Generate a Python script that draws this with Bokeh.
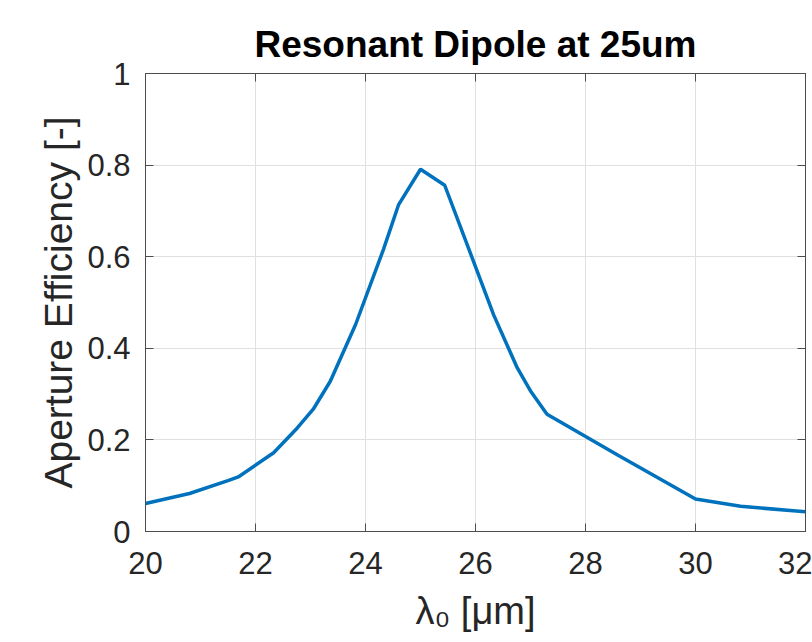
from bokeh.plotting import figure
from bokeh.models import LinearAxis, FixedTicker, Range1d
from bokeh.embed import file_html
from bokeh.resources import INLINE

wavelength_um = [20.0, 20.8, 21.5, 21.7, 22.33, 22.76, 23.05, 23.36, 23.82, 24.33, 24.6,
                 25.0, 25.44, 25.9, 26.33, 26.76, 27.0, 27.3, 28.6, 30.0, 30.82, 32.0]
aperture_eff = [0.061, 0.083, 0.111, 0.12, 0.172, 0.226, 0.267, 0.328, 0.452, 0.617, 0.713,
                0.791, 0.756, 0.61, 0.473, 0.357, 0.307, 0.256, 0.166, 0.071, 0.055, 0.043]
x_ticks = [20, 22, 24, 26, 28, 30, 32]
y_ticks = [0, 0.2, 0.4, 0.6, 0.8, 1]
y_tick_labels = {0: "0", 0.2: "0.2", 0.4: "0.4", 0.6: "0.6", 0.8: "0.8", 1: "1"}

AX = "#4d4d4d"
TXT = "#262626"
FONT = "Liberation Sans"

p = figure(width=812, height=642, output_backend="svg", toolbar_location=None,
           x_range=Range1d(20, 32), y_range=Range1d(0, 1),
           min_border_left=145, min_border_right=7, min_border_top=73, min_border_bottom=111,
           title="Resonant Dipole at 25um")
p.title.align = "center"
p.title.text_font = FONT
p.title.text_font_size = "37px"
p.title.text_font_style = "bold"
p.title.text_color = "black"
p.title.standoff = 18

p.line(wavelength_um, aperture_eff, line_color="#0072BD", line_width=3.5)

p.xaxis.ticker = FixedTicker(ticks=x_ticks)
p.yaxis.ticker = FixedTicker(ticks=y_ticks)
p.yaxis.major_label_overrides = y_tick_labels
for ax in (p.xaxis[0], p.yaxis[0]):
    ax.axis_line_color = AX
    ax.major_tick_line_color = AX
    ax.major_tick_in = 8
    ax.major_tick_out = 0
    ax.minor_tick_line_color = None
    ax.major_label_text_font = FONT
    ax.major_label_text_font_size = "31px"
    ax.major_label_text_color = TXT
    ax.axis_label_text_font = FONT
    ax.axis_label_text_font_style = "normal"
    ax.axis_label_text_color = TXT
p.xaxis.axis_label_text_font_size = "38px"
p.yaxis.axis_label_text_font_size = "39px"
p.xaxis.major_label_standoff = 20
p.yaxis.major_label_standoff = 15
p.xaxis.axis_label = "λ₀ [μm]"
p.yaxis.axis_label = "Aperture Efficiency [-]"
p.xaxis.axis_label_standoff = 13
p.yaxis.axis_label_standoff = 4

top = LinearAxis(ticker=FixedTicker(ticks=x_ticks), major_label_text_font_size="1px",
                 major_label_text_color=None,
                 major_tick_in=8, major_tick_out=0, axis_line_color=AX,
                 major_tick_line_color=AX, minor_tick_line_color=None, major_label_standoff=0)
right = LinearAxis(ticker=FixedTicker(ticks=y_ticks), major_label_text_font_size="1px",
                   major_label_text_color=None,
                   major_tick_in=8, major_tick_out=0, axis_line_color=AX,
                   major_tick_line_color=AX, minor_tick_line_color=None, major_label_standoff=0)
p.add_layout(top, "above")
p.add_layout(right, "right")

p.xgrid.ticker = FixedTicker(ticks=x_ticks)
p.ygrid.ticker = FixedTicker(ticks=y_ticks)
p.grid.grid_line_color = "#e0e0e0"
p.grid.grid_line_alpha = 1
p.outline_line_color = AX
p.background_fill_color = "white"
p.border_fill_color = "white"

open("out.html", "w").write(file_html(p, INLINE))
